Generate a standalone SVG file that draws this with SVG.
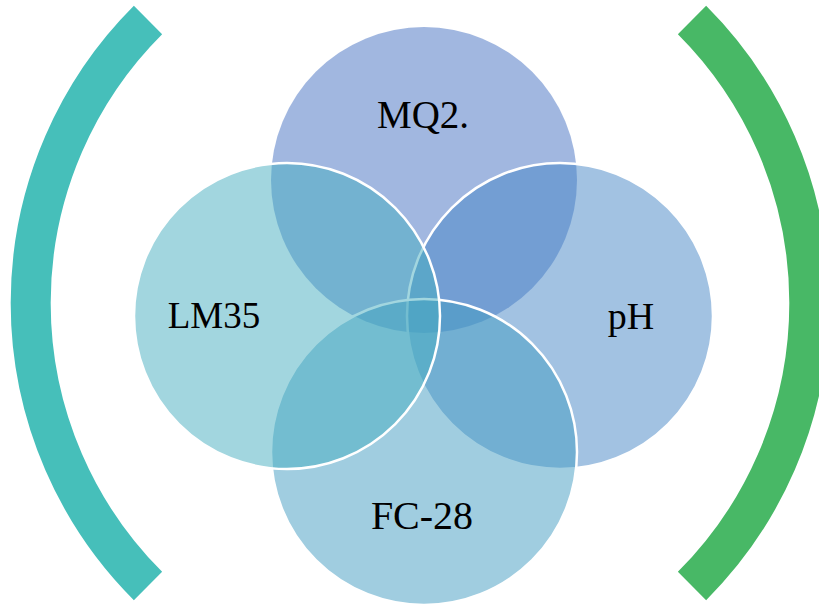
<svg xmlns="http://www.w3.org/2000/svg" width="819" height="606" viewBox="0 0 819 606">
  <style>
    .c { fill-opacity: 0.5; stroke: #FFFFFF; stroke-width: 2.5; }
    .lbl { font-family: "Liberation Serif", "Times New Roman", serif; font-size: 37px; fill: #000000; text-anchor: middle; }
    .arc { fill: none; stroke-width: 40; stroke-linecap: butt; }
  </style>
  <rect width="819" height="606" fill="#FFFFFF"/>
  <g id="brackets">
    <path id="bracket-left" class="arc" stroke="#46BFBA" d="M 148 20 A 400 400 0 0 0 148 586"/>
    <path id="bracket-right" class="arc" stroke="#48B866" d="M 692 20 A 400 400 0 0 1 692 586"/>
  </g>
  <g id="node-mq2">
    <circle cx="424" cy="180" r="153" fill="#436FC1" fill-opacity="0.5" stroke="none"/>
  </g>
  <g id="node-ph">
    <circle class="c" cx="560" cy="316" r="153" fill="#4585C5"/>
  </g>
  <g id="node-fc28">
    <circle class="c" cx="424" cy="452" r="153" fill="#419BC1"/>
  </g>
  <g id="node-lm35">
    <circle class="c" cx="287" cy="316" r="153" fill="#45ADBF"/>
  </g>
  <g id="labels">
    <text class="lbl" x="423" y="128" style="font-size:39px">MQ2.</text>
    <text class="lbl" x="631" y="329" style="font-size:38px">pH</text>
    <text class="lbl" x="422" y="529" style="font-size:40px">FC-28</text>
    <text class="lbl" x="214" y="328">LM35</text>
  </g>
</svg>
